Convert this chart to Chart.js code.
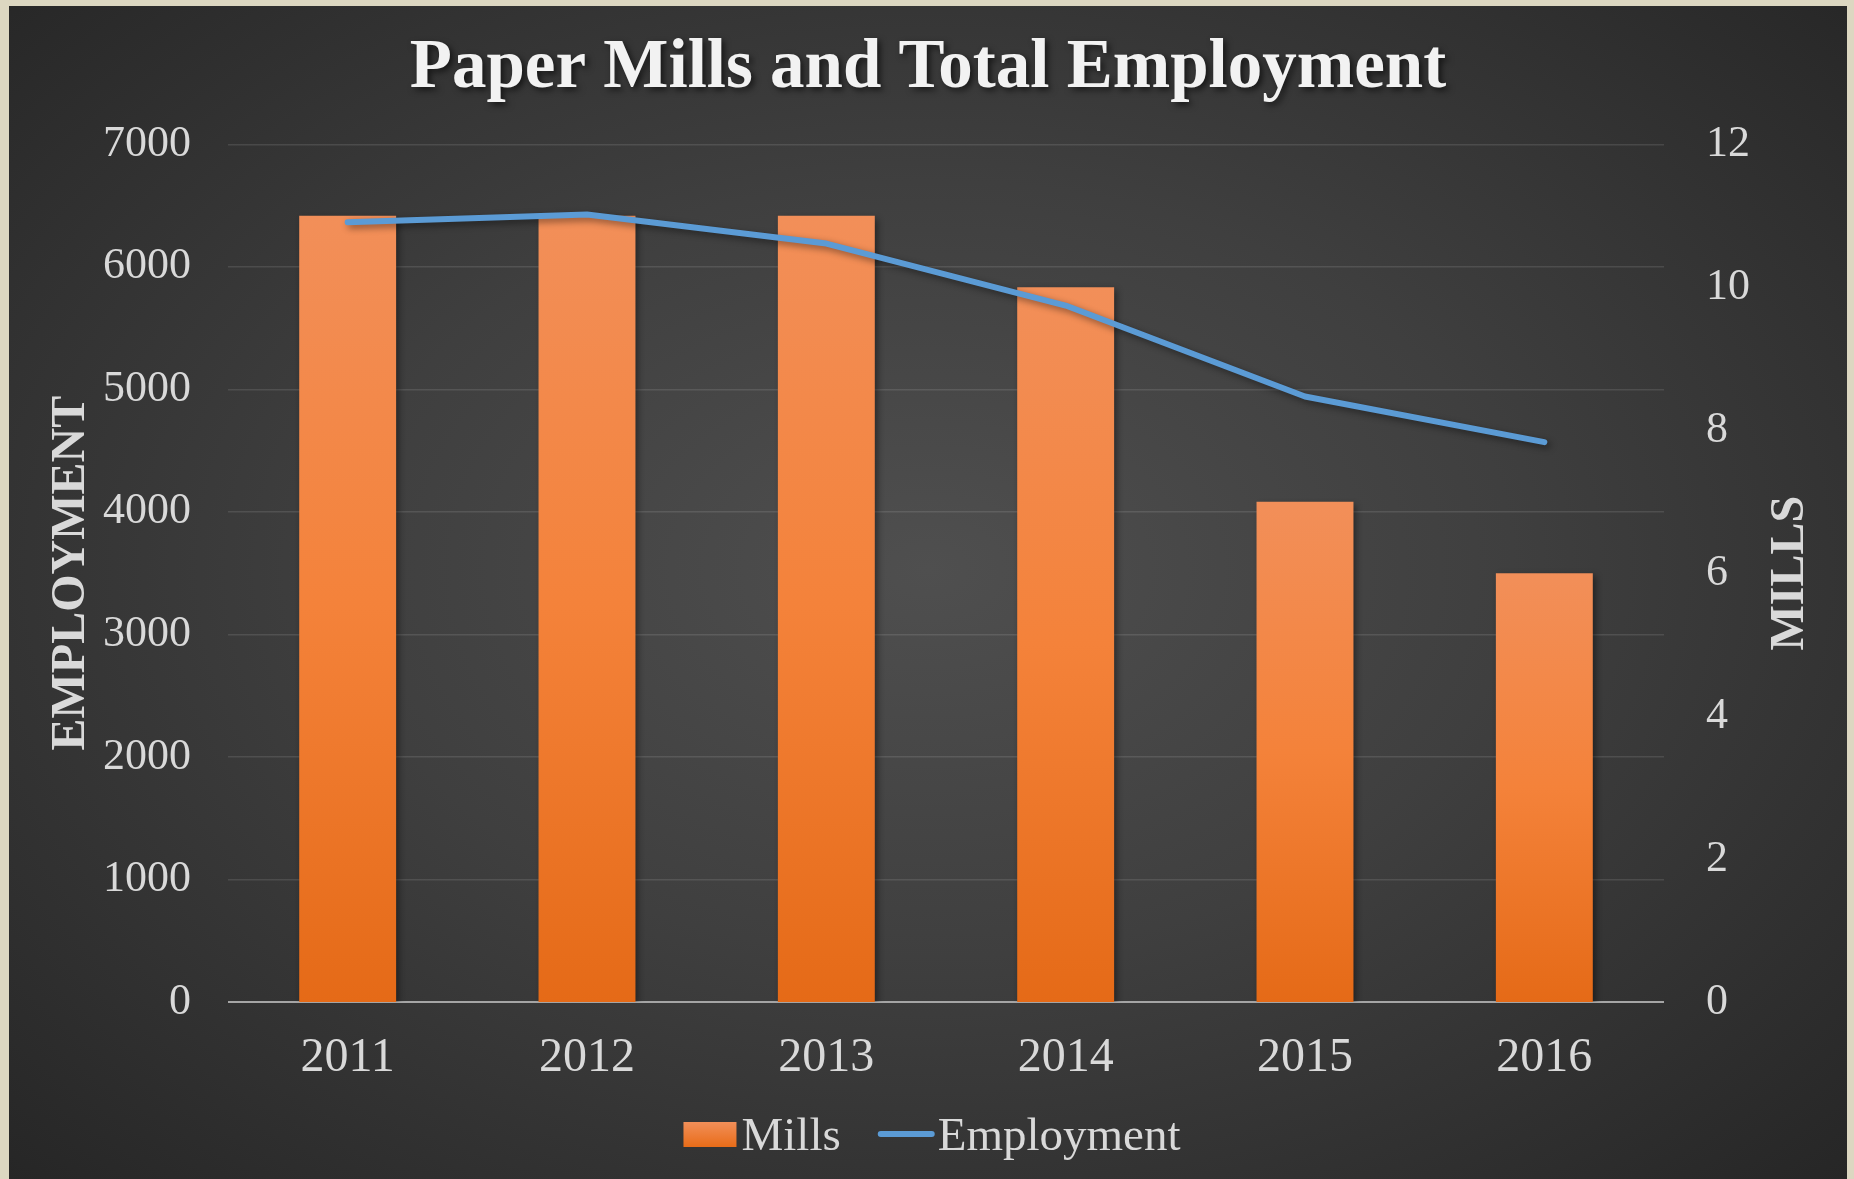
<!DOCTYPE html>
<html>
<head>
<meta charset="utf-8">
<script src="https://cdn.jsdelivr.net/npm/chart.js@4.4.1/dist/chart.umd.min.js"></script>
<style>
  html, body { margin: 0; padding: 0; }
  body { width: 1854px; height: 1179px; background: #dcd7c1; position: relative; overflow: hidden; }
  #panel {
    position: absolute; left: 9px; top: 6px; width: 1838px; height: 1173px;
    background: radial-gradient(ellipse farthest-corner at 50% 48%, #4f4f4f 0%, #3f3f3f 45%, #262626 100%);
  }
  canvas { display: block; }
</style>
</head>
<body>
<div id="panel"><canvas id="c" width="1838" height="1173"></canvas></div>
<script>
const years = ['2011', '2012', '2013', '2014', '2015', '2016'];
const mills = [11, 11, 11, 10, 7, 6];
const employment = [6364, 6427, 6190, 5684, 4942, 4569];
const chartTitle = 'Paper Mills and Total Employment';
const leftAxisTitle = 'EMPLOYMENT';
const rightAxisTitle = 'MILLS';

const SERIF = "'Liberation Serif', 'Times New Roman', serif";
const TEXT = '#d9d9d9';
const BLUE = '#5b9bd5';

function barGradient(context) {
  const chart = context.chart;
  if (!chart.chartArea || context.type !== 'data') return '#ee7d33';
  const scale = chart.scales.y1;
  const top = scale.getPixelForValue(context.parsed ? context.parsed.y : mills[context.dataIndex]);
  const bottom = scale.getPixelForValue(0);
  if (!isFinite(top) || !isFinite(bottom) || top === bottom) return '#ee7d33';
  const g = chart.ctx.createLinearGradient(0, top, 0, bottom);
  g.addColorStop(0, '#f28f59');
  g.addColorStop(0.5, '#f4823a');
  g.addColorStop(1, '#e56a17');
  return g;
}

const shadowPlugin = {
  id: 'shadows',
  beforeDraw(chart) {
    const tb = chart.titleBlock;
    if (tb && !tb._shadowWrapped) {
      const orig = tb.draw.bind(tb);
      tb.draw = function (area) {
        const ctx = chart.ctx;
        ctx.save();
        ctx.shadowColor = 'rgba(0,0,0,0.6)';
        ctx.shadowBlur = 6;
        ctx.shadowOffsetX = 3;
        ctx.shadowOffsetY = 3;
        orig(area);
        ctx.restore();
      };
      tb._shadowWrapped = true;
    }
  },
  beforeDatasetDraw(chart) {
    const ctx = chart.ctx;
    ctx.save();
    ctx.shadowColor = 'rgba(0,0,0,0.45)';
    ctx.shadowBlur = 7;
    ctx.shadowOffsetX = 3;
    ctx.shadowOffsetY = 3;
  },
  afterDatasetDraw(chart) {
    chart.ctx.restore();
  }
};

const extrasPlugin = {
  id: 'extras',
  afterDraw(chart) {
    const ctx = chart.ctx;
    const a = chart.chartArea;
    // right axis title (reads bottom to top)
    ctx.save();
    ctx.translate(a.right + 127, (a.top + a.bottom) / 2);
    ctx.rotate(-Math.PI / 2);
    ctx.font = "bold 48px " + SERIF;
    ctx.fillStyle = TEXT;
    ctx.textAlign = 'center';
    ctx.textBaseline = 'middle';
    ctx.fillText(rightAxisTitle, 0, 0);
    ctx.restore();

    // legend
    ctx.save();
    ctx.font = "47px " + SERIF;
    const ds = chart.data.datasets;
    const boxW = 53, boxH = 25, lineW = 57;
    const w0 = ctx.measureText(ds[0].label).width;
    const w1 = ctx.measureText(ds[1].label).width;
    const total = boxW + 5 + w0 + 37 + lineW + 3 + w1;
    let x = chart.width / 2 - total / 2 + 4;
    const baseline = 1144;
    const boxTop = 1116;
    const g = ctx.createLinearGradient(0, boxTop, 0, boxTop + boxH);
    g.addColorStop(0, '#f28f59');
    g.addColorStop(1, '#e86c18');
    ctx.fillStyle = g;
    ctx.fillRect(x, boxTop, boxW, boxH);
    x += boxW + 5;
    ctx.fillStyle = TEXT;
    ctx.textBaseline = 'alphabetic';
    ctx.textAlign = 'left';
    ctx.fillText(ds[0].label, x, baseline);
    x += w0 + 37;
    ctx.strokeStyle = ds[1].borderColor;
    ctx.lineWidth = 6;
    ctx.lineCap = 'round';
    ctx.beginPath();
    ctx.moveTo(x + 3, boxTop + 12);
    ctx.lineTo(x + lineW - 3, boxTop + 12);
    ctx.stroke();
    x += lineW + 3;
    ctx.fillText(ds[1].label, x, baseline);
    ctx.restore();
  }
};

new Chart(document.getElementById('c'), {
  data: {
    labels: years,
    datasets: [
      {
        type: 'bar',
        label: 'Mills',
        data: mills,
        yAxisID: 'y1',
        backgroundColor: barGradient,
        borderWidth: 0,
        categoryPercentage: 1,
        barPercentage: 0.405,
        order: 1
      },
      {
        type: 'line',
        label: 'Employment',
        data: employment,
        yAxisID: 'y',
        borderColor: BLUE,
        backgroundColor: BLUE,
        borderWidth: 6,
        borderCapStyle: 'round',
        borderJoinStyle: 'round',
        pointRadius: 0,
        pointHoverRadius: 0,
        tension: 0,
        fill: false,
        order: 0
      }
    ]
  },
  options: {
    responsive: false,
    animation: false,
    events: [],
    layout: { padding: { left: 0, right: 0, top: 0, bottom: 77 } },
    plugins: {
      tooltip: { enabled: false },
      legend: { display: false },
      title: {
        display: true,
        text: chartTitle,
        color: '#f2f2f2',
        font: { family: SERIF, size: 69, weight: 'bold' },
        padding: { top: 22, bottom: 33.5 }
      }
    },
    scales: {
      x: {
        grid: { display: false },
        border: { display: false },
        ticks: { color: TEXT, font: { family: SERIF, size: 48 }, padding: 20, maxRotation: 0 },
        afterFit(scale) { scale.height = 100; }
      },
      y: {
        position: 'left',
        min: 0,
        max: 7000,
        border: { display: false },
        grid: {
          drawTicks: false,
          color: (c) => c.tick && c.tick.value === 0 ? '#a5a5a5' : 'rgba(255,255,255,0.11)',
          lineWidth: (c) => c.tick && c.tick.value === 0 ? 2 : 1.5
        },
        ticks: {
          stepSize: 1000, color: TEXT, font: { family: SERIF, size: 44 }, padding: 37,
          callback: (v) => String(v)
        },
        title: {
          display: true,
          text: leftAxisTitle,
          color: TEXT,
          font: { family: SERIF, size: 48, weight: 'bold' },
          padding: { top: 34, bottom: 0 }
        },
        afterFit(scale) { scale.width = 219; }
      },
      y1: {
        position: 'right',
        min: 0,
        max: 12,
        border: { display: false },
        grid: { display: false, drawTicks: false },
        ticks: { stepSize: 2, color: TEXT, font: { family: SERIF, size: 44 }, padding: 42 },
        afterFit(scale) { scale.width = 183; }
      }
    }
  },
  plugins: [shadowPlugin, extrasPlugin]
});
</script>
</body>
</html>
